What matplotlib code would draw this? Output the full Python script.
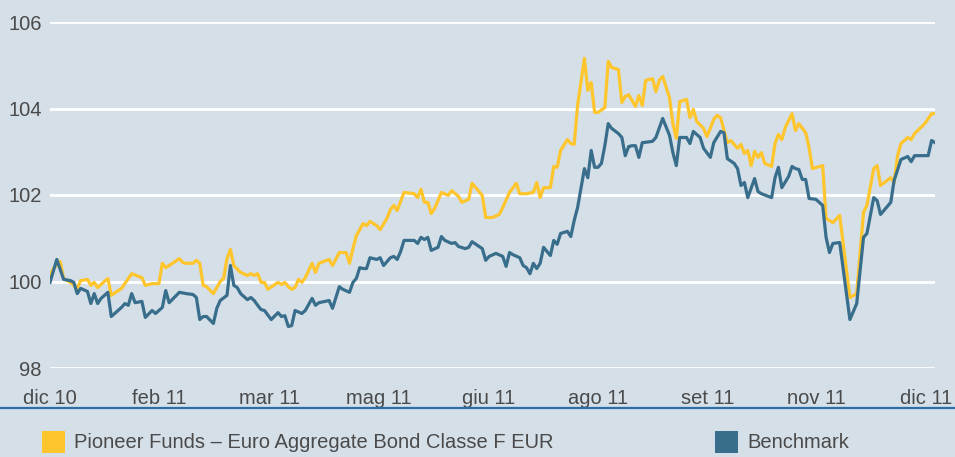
import matplotlib
matplotlib.use("Agg")
import matplotlib.pyplot as plt
from matplotlib.patches import Rectangle
from matplotlib.lines import Line2D

plt.rcParams["font.family"] = ["Liberation Sans", "DejaVu Sans"]

# Trading-day index (0 = dic 10, 260 = dic 11) and NAV rebased to 100
fund_days = [0, 1, 3, 4, 6, 8, 9, 11, 12, 13, 14, 17, 18, 21, 24, 27, 28, 30, 32, 33,
             34, 36, 38, 39, 40, 42, 43, 44, 45, 46, 48, 50, 51, 52, 53, 54, 56, 58, 59, 60,
             61, 62, 63, 64, 67, 68, 69, 70, 71, 72, 73, 74, 75, 77, 78, 79, 82, 83, 85, 87,
             88, 89, 90, 92, 93, 94, 96, 97, 99, 100, 101, 102, 104, 107, 108, 109, 110, 111, 112, 113,
             115, 117, 118, 120, 121, 123, 124, 127, 128, 130, 132, 133, 135, 137, 138, 140, 142, 143, 144, 145,
             147, 148, 149, 150, 152, 153, 154, 155, 157, 158, 159, 160, 161, 163, 164, 165, 167, 168, 169, 170,
             172, 173, 174, 175, 177, 178, 179, 180, 182, 183, 184, 185, 187, 188, 189, 190, 192, 193, 195, 196,
             197, 199, 200, 202, 203, 204, 205, 206, 207, 208, 209, 210, 212, 213, 214, 215, 216, 218, 219, 220,
             222, 223, 224, 227, 228, 230, 232, 235, 237, 239, 240, 242, 243, 244, 247, 248, 249, 250, 252, 253,
             254, 257, 259, 260]
fund_values = [100.14, 100.30, 100.46, 100.07, 99.98, 99.84, 100.02, 100.05, 99.91, 99.98,
               99.86, 100.07, 99.68, 99.84, 100.18, 100.09, 99.91, 99.95, 99.95, 100.42,
               100.32, 100.42, 100.53, 100.44, 100.42, 100.42, 100.49, 100.42, 99.91, 99.88,
               99.72, 100.00, 100.07, 100.53, 100.74, 100.37, 100.21, 100.14, 100.18, 100.14,
               100.18, 99.98, 99.98, 99.82, 99.98, 99.93, 99.98, 99.88, 99.82, 99.86,
               100.05, 99.98, 100.09, 100.42, 100.21, 100.42, 100.51, 100.37, 100.67, 100.67,
               100.42, 100.76, 101.06, 101.34, 101.29, 101.39, 101.29, 101.20, 101.46, 101.66,
               101.76, 101.64, 102.06, 102.03, 101.94, 102.13, 101.83, 101.83, 101.57, 101.69,
               102.06, 101.99, 102.10, 101.97, 101.83, 101.90, 102.27, 101.99, 101.48, 101.48,
               101.55, 101.71, 102.06, 102.27, 102.03, 102.03, 102.06, 102.29, 101.94, 102.17,
               102.17, 102.66, 102.64, 103.03, 103.28, 103.19, 103.17, 104.07, 105.16, 104.42,
               104.60, 103.91, 103.91, 104.02, 105.09, 104.95, 104.90, 104.14, 104.28, 104.32,
               104.05, 104.30, 104.07, 104.65, 104.69, 104.39, 104.65, 104.74, 104.25, 103.65,
               103.31, 104.16, 104.21, 103.79, 103.98, 103.70, 103.54, 103.35, 103.75, 103.84,
               103.79, 103.21, 103.26, 103.08, 103.17, 102.96, 103.03, 102.68, 103.01, 102.87,
               102.98, 102.73, 102.66, 103.19, 103.40, 103.28, 103.56, 103.88, 103.49, 103.65,
               103.44, 103.10, 102.61, 102.68, 101.46, 101.36, 101.53, 99.63, 99.72, 101.60,
               101.76, 102.61, 102.68, 102.22, 102.40, 102.29, 102.91, 103.19, 103.33, 103.28,
               103.42, 103.65, 103.88, 103.88]

bench_days = [0, 2, 4, 6, 7, 8, 9, 11, 12, 13, 14, 15, 17, 18, 21, 22, 23, 24, 25, 27,
              28, 30, 31, 33, 34, 35, 38, 40, 42, 43, 44, 45, 46, 48, 49, 50, 52, 53, 54, 55,
              56, 58, 59, 60, 61, 62, 63, 65, 67, 68, 69, 70, 71, 72, 74, 75, 77, 78, 79, 82,
              83, 85, 86, 88, 89, 90, 91, 92, 93, 94, 96, 97, 98, 100, 101, 102, 103, 104, 107, 108,
              109, 110, 111, 112, 114, 115, 116, 118, 119, 120, 122, 123, 124, 127, 128, 129, 131, 133, 134, 135,
              136, 138, 139, 140, 141, 142, 143, 144, 145, 147, 148, 149, 150, 152, 153, 154, 155, 157, 158, 159,
              160, 161, 162, 163, 164, 165, 167, 168, 169, 170, 171, 172, 173, 174, 177, 178, 180, 182, 183, 184,
              185, 187, 188, 189, 191, 192, 194, 195, 197, 198, 199, 201, 202, 203, 204, 205, 207, 208, 209, 212,
              213, 214, 215, 217, 218, 219, 220, 221, 222, 223, 225, 227, 228, 229, 230, 232, 235, 237, 239, 240,
              242, 243, 244, 247, 248, 250, 252, 253, 254, 258, 259, 260]
bench_values = [99.98, 100.51, 100.05, 100.02, 99.98, 99.72, 99.84, 99.77, 99.49, 99.72,
                99.49, 99.61, 99.75, 99.19, 99.40, 99.49, 99.45, 99.72, 99.51, 99.54,
                99.17, 99.33, 99.26, 99.40, 99.79, 99.51, 99.75, 99.72, 99.70, 99.63,
                99.12, 99.19, 99.19, 99.03, 99.38, 99.56, 99.68, 100.37, 99.91, 99.86,
                99.72, 99.58, 99.63, 99.56, 99.45, 99.35, 99.33, 99.12, 99.28, 99.19,
                99.21, 98.96, 98.98, 99.33, 99.26, 99.33, 99.61, 99.45, 99.51, 99.56,
                99.38, 99.88, 99.82, 99.75, 99.98, 100.07, 100.32, 100.30, 100.30, 100.55,
                100.51, 100.55, 100.37, 100.55, 100.58, 100.51, 100.69, 100.95, 100.95, 100.88,
                101.02, 100.97, 101.02, 100.72, 100.79, 101.04, 100.95, 100.88, 100.90, 100.81,
                100.76, 100.79, 100.92, 100.76, 100.49, 100.58, 100.65, 100.58, 100.35, 100.67,
                100.62, 100.55, 100.37, 100.32, 100.18, 100.42, 100.30, 100.42, 100.79, 100.60,
                100.95, 100.86, 101.11, 101.16, 101.04, 101.41, 101.71, 102.61, 102.40, 103.03,
                102.64, 102.64, 102.73, 103.14, 103.65, 103.54, 103.42, 103.33, 102.91, 103.12,
                103.14, 103.14, 102.87, 103.21, 103.24, 103.33, 103.77, 103.38, 102.98, 102.68,
                103.33, 103.33, 103.19, 103.47, 103.33, 103.08, 102.87, 103.21, 103.47, 103.44,
                102.84, 102.73, 102.61, 102.22, 102.29, 101.94, 102.38, 102.08, 102.03, 101.94,
                102.40, 102.64, 102.17, 102.43, 102.66, 102.61, 102.59, 102.36, 102.36, 101.92,
                101.90, 101.76, 101.02, 100.67, 100.88, 100.90, 99.12, 99.49, 101.02, 101.11,
                101.94, 101.87, 101.55, 101.83, 102.34, 102.82, 102.89, 102.77, 102.91, 102.91,
                103.26, 103.21]

x_labels = ["dic 10", "feb 11", "mar 11", "mag 11", "giu 11", "ago 11", "set 11", "nov 11", "dic 11"]
y_ticks = [98, 100, 102, 104, 106]

fund_name = "Pioneer Funds \u2013 Euro Aggregate Bond Classe F EUR"
bench_name = "Benchmark"

BG = "#d5dfe8"
YELLOW = "#fec52c"
BLUE = "#386e8b"
TEXT = "#4a4a4a"
RULE = "#2a6fa8"
FS = 14.5

fig = plt.figure(figsize=(9.55, 4.57), dpi=100, facecolor=BG)
ax = fig.add_axes([50 / 955, 1 - 368 / 457, 885 / 955, 346 / 457])
ax.set_facecolor(BG)

ax.plot(fund_days, fund_values, color=YELLOW, lw=2.3, solid_joinstyle="round", zorder=3)
ax.plot(bench_days, bench_values, color=BLUE, lw=2.3, solid_joinstyle="round", zorder=4)

ax.set_xlim(0, 260)
ax.set_ylim(98, 106)
ax.set_yticks(y_ticks)
ax.set_yticklabels([str(v) for v in y_ticks])
n = len(x_labels)
last_tick = 257.5
ax.set_xticks([i * last_tick / (n - 1) for i in range(n)])
ax.set_xticklabels(x_labels)

ax.grid(axis="y", color="white", lw=2, zorder=1)
ax.grid(axis="x", visible=False)
for s in ax.spines.values():
    s.set_visible(False)
ax.tick_params(axis="both", length=0, labelsize=FS, colors=TEXT)
ax.tick_params(axis="y", pad=6)
ax.tick_params(axis="x", pad=15)

# separator rule under the axis labels
fig.add_artist(Line2D([0, 1], [1 - 408 / 457] * 2, transform=fig.transFigure,
                      color=RULE, lw=1.6))

# legend keys
def key(x_px, color, label):
    fig.add_artist(Rectangle((x_px / 955, 1 - 453 / 457), 23 / 955, 22 / 457,
                             transform=fig.transFigure, facecolor=color, edgecolor="none"))
    fig.text((x_px + 32) / 955, 1 - 443 / 457, label, color=TEXT, fontsize=FS,
             va="center", ha="left")

key(42, YELLOW, fund_name)
key(715, BLUE, bench_name)

fig.savefig("out.png", dpi=100, facecolor=BG)
